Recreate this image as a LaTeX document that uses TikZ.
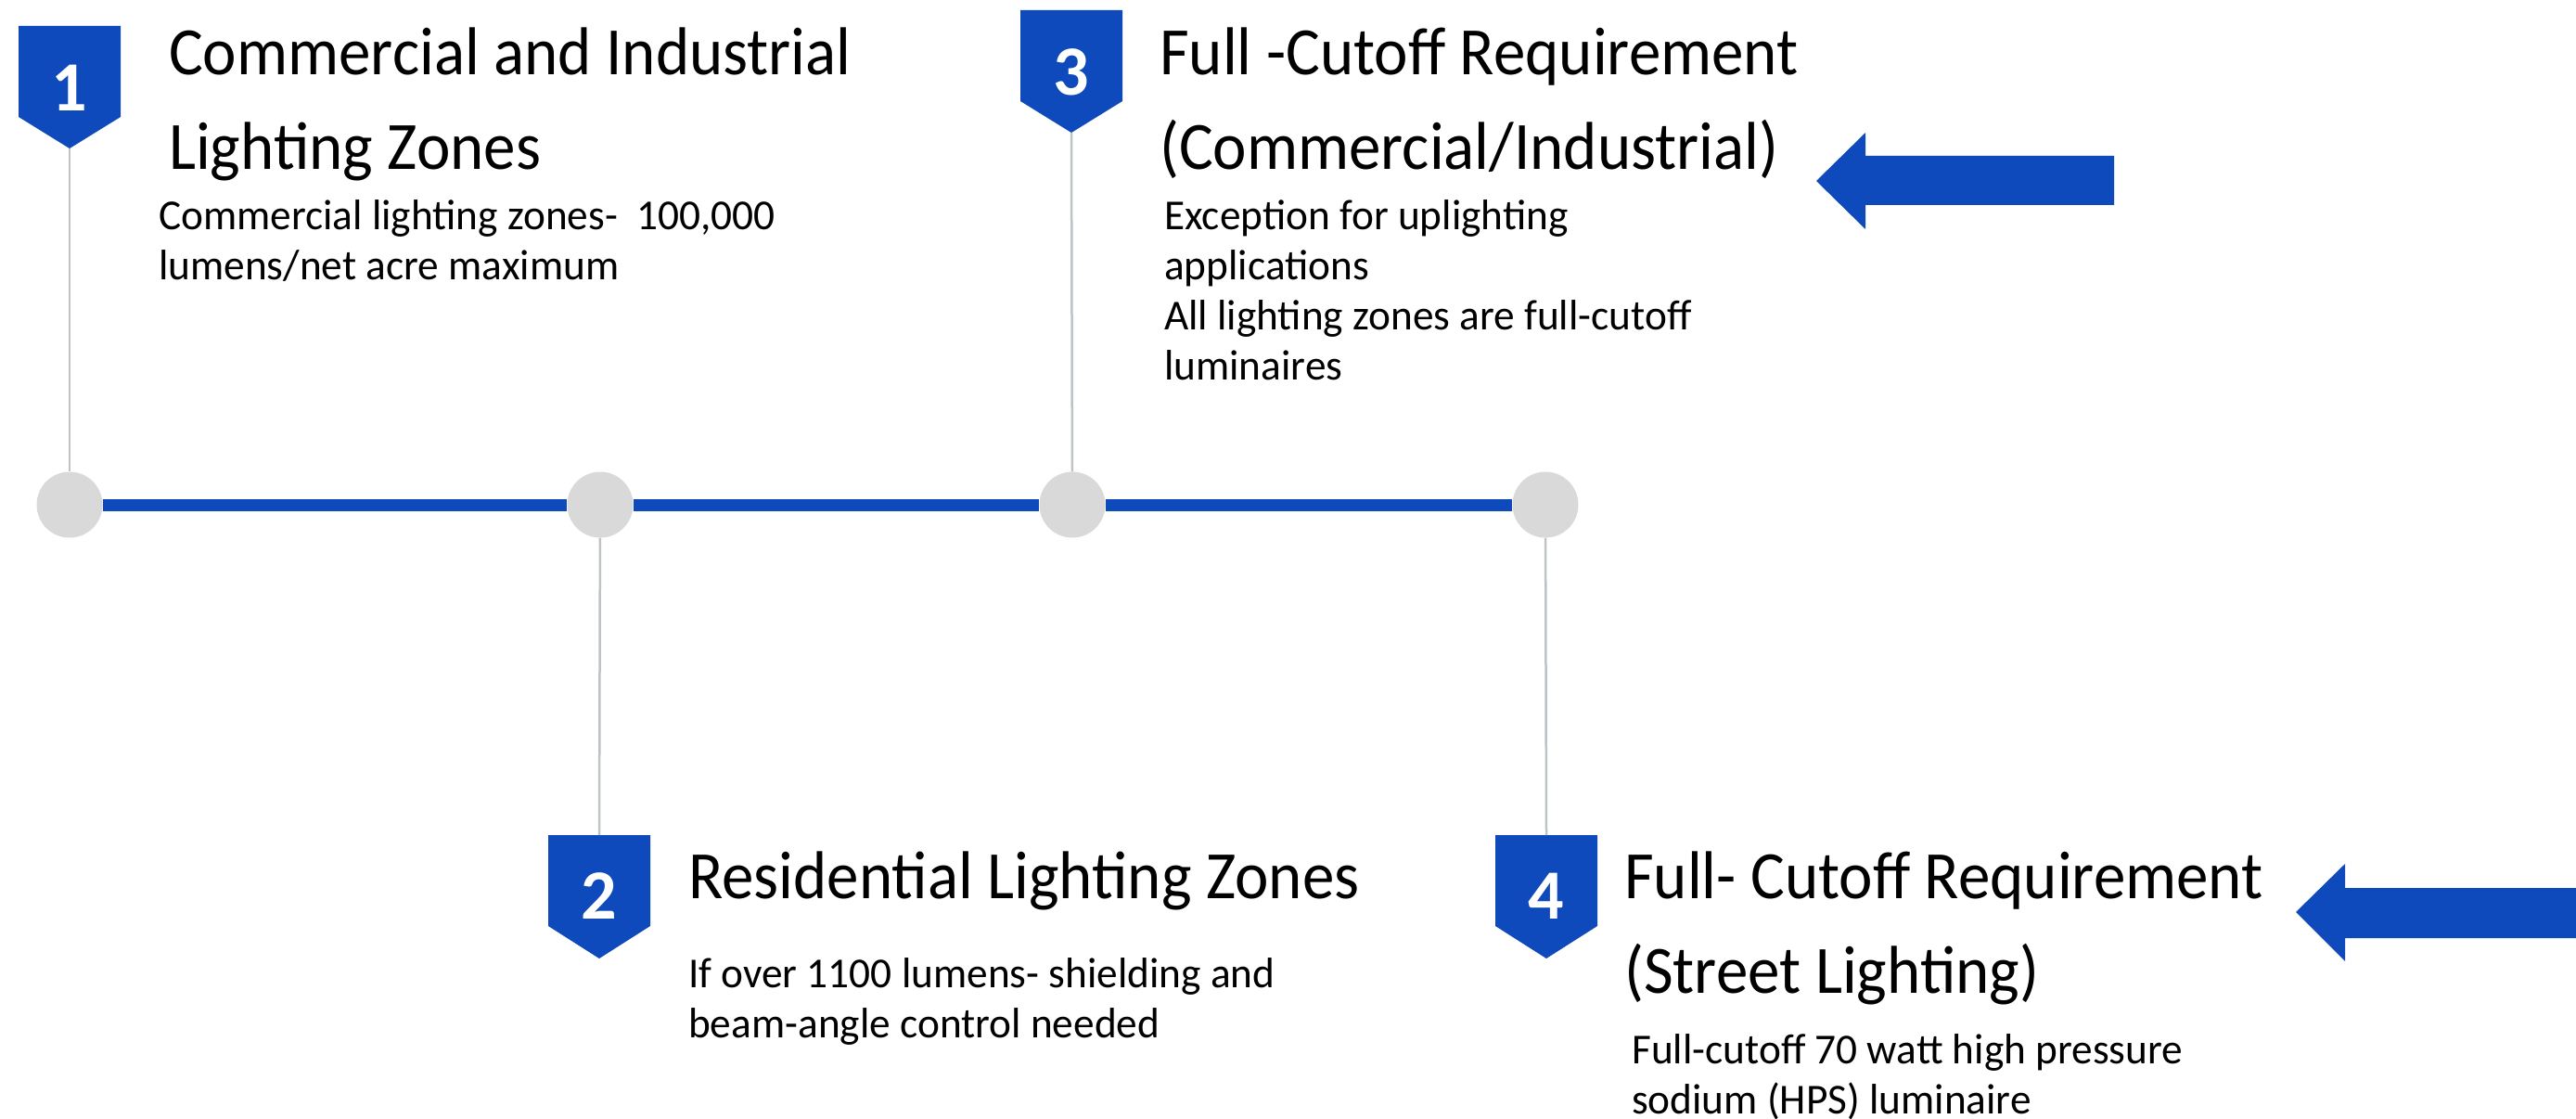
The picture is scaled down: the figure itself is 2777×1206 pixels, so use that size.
\documentclass[tikz,border=0pt]{standalone}
\usepackage{fontspec}
\setmainfont{Carlito}
\newfontfamily\tltitlefont[FakeStretch=0.945]{Carlito}
\newfontfamily\tlbodyfont[FakeStretch=0.985]{Carlito}
\definecolor{tlblue}{RGB}{14,74,187}
\definecolor{dotgray}{RGB}{217,217,217}
\definecolor{linegray}{RGB}{190,195,200}
\newcommand\tllines[1]{\begin{tabular}[t]{@{}l@{}}#1\end{tabular}}
\tikzset{
  title/.style={anchor=base west, inner sep=0pt, font=\tltitlefont\fontsize{73}{102}\selectfont},
  body/.style={anchor=base west, inner sep=0pt, font=\tlbodyfont\fontsize{46}{54}\selectfont},
  digit/.style={inner sep=0pt, text=white, font=\fontsize{76}{76}\selectfont\bfseries},
  dot/.style={circle, fill=dotgray, minimum size=71pt, inner sep=0pt},
  conn/.style={draw=linegray, line width=2.5pt},
  bar/.style={draw=tlblue, line width=13pt},
  marker/.style={fill=tlblue},
  bigarrow/.style={fill=tlblue}
}
\begin{document}
\begin{tikzpicture}[x=1pt,y=-1pt]
\path[use as bounding box] (0,0) rectangle (2777,1206);
% timeline dots
\node[dot] (c1) at (75,544) {};
\node[dot] (c2) at (647,544) {};
\node[dot] (c3) at (1156,544) {};
\node[dot] (c4) at (1666,544) {};
\draw[bar] (c1.east) -- (c2.west);
\draw[bar] (c2.east) -- (c3.west);
\draw[bar] (c3.east) -- (c4.west);
% markers
\fill[marker] (20,28) -- (130,28) -- (130,126) -- (75,160) -- (20,126) -- cycle;
\node[digit] (m1) at (75,95) {1};
\coordinate (t1) at (75,160);
\fill[marker] (1100,11) -- (1210,11) -- (1210,109) -- (1155,143) -- (1100,109) -- cycle;
\node[digit] (m3) at (1155,78) {3};
\coordinate (t3) at (1155,143);
\fill[marker] (591,900) -- (701,900) -- (701,998) -- (646,1033) -- (591,998) -- cycle;
\node[digit] (m2) at (646,966) {2};
\coordinate (t2) at (646,900);
\fill[marker] (1612,900) -- (1722,900) -- (1722,998) -- (1667,1033) -- (1612,998) -- cycle;
\node[digit] (m4) at (1667,966) {4};
\coordinate (t4) at (1667,900);
% connectors
\draw[conn] (t1) -- (c1);
\draw[conn] (t3) -- (c3);
\draw[conn] (c2) -- (t2);
\draw[conn] (c4) -- (t4);
% titles
\node[title] (T1) at (182,81) {\tllines{Commercial and Industrial\\ Lighting Zones}};
\node[title] (T3) at (1250,81) {\tllines{Full -Cutoff Requirement\\(Commercial/Industrial)}};
\node[title] (T2) at (742,968) {Residential Lighting Zones};
\node[title] (T4) at (1751,968) {\tllines{Full- Cutoff Requirement\\(Street Lighting)}};
% bodies
\node[body] (B1) at (171,248) {\tllines{Commercial lighting zones-\ \ 100,000\\lumens/net acre maximum}};
\node[body] (B3) at (1255,248) {\tllines{Exception for uplighting\\applications\\All lighting zones are full-cutoff\\luminaires}};
\node[body] (B2) at (742,1064) {\tllines{If over 1100 lumens- shielding and\\beam-angle control needed}};
\node[body] (B4) at (1759,1146) {\tllines{Full-cutoff 70 watt high pressure\\sodium (HPS) luminaire}};
% arrows
\fill[bigarrow] (2279,168) -- (2011,168) -- (2011,143) -- (1958,195) -- (2011,247) -- (2011,221) -- (2279,221) -- cycle;
\fill[bigarrow] (2777,957) -- (2528,957) -- (2528,931) -- (2475,983) -- (2528,1036) -- (2528,1011) -- (2777,1011) -- cycle;
\end{tikzpicture}
\end{document}
